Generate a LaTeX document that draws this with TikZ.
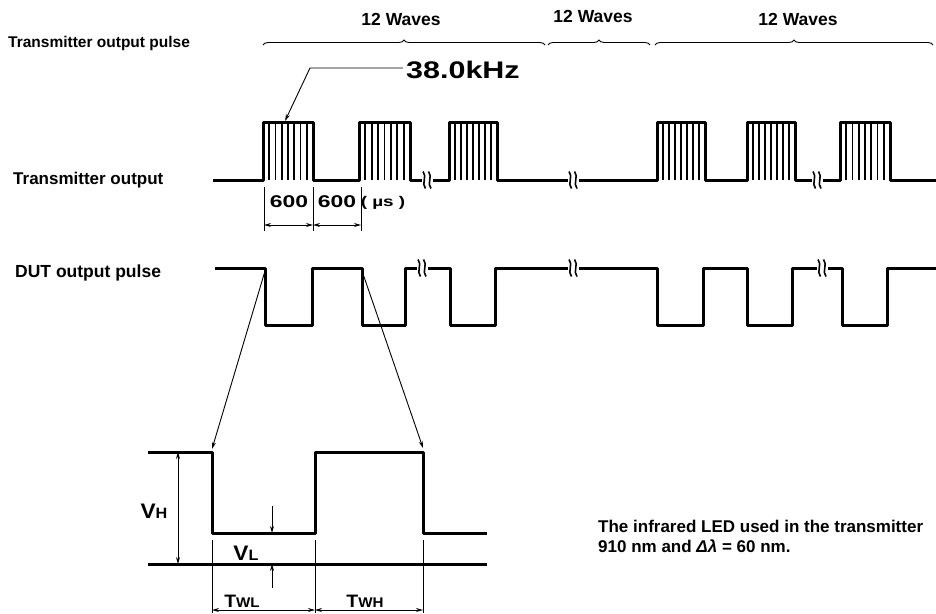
\documentclass[tikz,border=0pt]{standalone}
\usepackage{fontspec}
\setmainfont{Liberation Sans}
\newfontfamily\fA[FakeStretch=1.08]{Liberation Sans}
\newfontfamily\fB[FakeStretch=1.35]{Liberation Sans}
\newfontfamily\fC[FakeStretch=1.27]{Liberation Sans}
\usetikzlibrary{decorations.pathreplacing,arrows.meta}
\begin{document}
\begin{tikzpicture}[x=1pt,y=-1pt,
  wave/.style={line width=3pt,line join=round},
  hatch/.style={line width=1.8pt},
  thinln/.style={line width=0.9pt},
  tip/.style={-{Stealth[length=7pt,width=4pt]}},
  tips/.style={{Stealth[length=7pt,width=4pt]}-{Stealth[length=7pt,width=4pt]}},
  lbl/.style={anchor=base west,inner sep=0pt},
  wv/.style={font={\bfseries\fontsize{17.5}{19}\selectfont},anchor=base,inner sep=0pt},
  dimtxt/.style={font={\fB\bfseries\fontsize{17}{18}\selectfont},anchor=base,inner sep=0pt},
  brkmark/.pic={
    \fill[white] (-5.5,-8) rectangle (5.5,8);
    \draw[line width=1.6pt] (-4,-8.5) .. controls (0.5,-3.5) and (-6,3.5) .. (-1.5,8.5);
    \draw[line width=1.6pt] (1.5,-8.5) .. controls (6,-3.5) and (-0.5,3.5) .. (4,8.5);
  }]
\useasboundingbox (0,0) rectangle (936,613);

% left labels
\node[lbl,font={\bfseries\fontsize{15.5}{17}\selectfont}] (lpulse) at (8,47) {Transmitter output pulse};
\node[lbl,font={\bfseries\fontsize{17}{18}\selectfont}] (lout) at (13,184) {Transmitter output};
\node[lbl,font={\bfseries\fontsize{17.5}{18}\selectfont}] (ldut) at (15,277) {DUT output pulse};

% braces
\draw[thinln,decorate,decoration={brace,amplitude=5pt}] (263,45) -- (545,45);
\draw[thinln,decorate,decoration={brace,amplitude=5pt}] (548,45) -- (650,45);
\draw[thinln,decorate,decoration={brace,amplitude=5pt}] (655,45) -- (933,45);
\node[wv] (w1) at (401,25) {12 Waves};
\node[wv] (w2) at (593,22) {12 Waves};
\node[wv] (w3) at (798,25) {12 Waves};

% transmitter output
\draw[wave] (213,180) -- (263,180) -- (263,122) -- (313,122) -- (313,180)
  -- (359,180) -- (359,122) -- (410,122) -- (410,180)
  -- (449,180) -- (449,122) -- (497,122) -- (497,180)
  -- (657,180) -- (657,122) -- (705,122) -- (705,180)
  -- (747,180) -- (747,122) -- (795,122) -- (795,180)
  -- (840,180) -- (840,122) -- (890,122) -- (890,180) -- (936,180);
\foreach \a/\b in {263/313,359/410,449/497,657/705,747/795,840/890}{
  \foreach \k in {1,...,7}{
    \draw[hatch] ({\a+\k*(\b-\a)/8},122) -- ({\a+\k*(\b-\a)/8},180);
  }
}
\pic at (427,180) {brkmark};
\pic at (573,180) {brkmark};
\pic at (817,180) {brkmark};

% 38.0kHz leader
\node[font={\fC\bfseries\fontsize{24}{26}\selectfont},anchor=base west,inner sep=0pt] (khz) at (406,78) {38.0kHz};
\coordinate (kL) at (403,68);
\coordinate (kB) at (310,68);
\coordinate (kT) at (285,121);
\draw[thinln,tip] (kL) -- (kB) -- (kT);

% 600 dimensions
\draw[thinln] (264,187) -- (264,231);
\draw[thinln] (313,187) -- (313,231);
\draw[thinln] (361,187) -- (361,231);
\draw[thinln,tips] (264,225) -- (313,225);
\draw[thinln,tips] (313,225) -- (361,225);
\node[dimtxt] (d1) at (289,207) {600};
\node[dimtxt] (d2) at (337,207) {600};
\node[font={\fB\bfseries\fontsize{14}{16}\selectfont},anchor=base,inner sep=0pt] (us) at (383,206) {( µs )};

% DUT output
\draw[wave] (215,268) -- (265,268) -- (265,325) -- (312,325) -- (312,268)
  -- (362,268) -- (362,325) -- (405,325) -- (405,268)
  -- (450,268) -- (450,325) -- (495,325) -- (495,268)
  -- (657,268) -- (657,325) -- (703,325) -- (703,268)
  -- (747,268) -- (747,325) -- (792,325) -- (792,268)
  -- (842,268) -- (842,325) -- (887,325) -- (887,268) -- (936,268);
\pic at (422,268) {brkmark};
\pic at (573,268) {brkmark};
\pic at (822,268) {brkmark};

% detail
\coordinate (s1) at (265,271);
\coordinate (s2) at (362,271);
\coordinate (e1) at (212,449);
\coordinate (e2) at (423,448);
\draw[thinln,tip] (s1) -- (e1);
\draw[thinln,tip] (s2) -- (e2);
\draw[wave] (148,452) -- (212,452) -- (212,533) -- (315,533) -- (315,452)
  -- (423,452) -- (423,533) -- (487,533);
\draw[wave] (148,564) -- (487,564);
\draw[thinln,tips] (178,452) -- (178,564);
\draw[thinln,tip] (272,506) -- (272,533);
\draw[thinln,tip] (272,588) -- (272,564);
\draw[thinln] (212,540) -- (212,613);
\draw[thinln] (315,540) -- (315,613);
\draw[thinln] (423,540) -- (423,613);
\draw[thinln,tips] (212,610) -- (315,610);
\draw[thinln,tips] (315,610) -- (423,610);
\node[font=\fA\bfseries,anchor=base,inner sep=0pt] (vh) at (154,518) {\fontsize{21}{22}\selectfont V\fontsize{15}{16}\selectfont H};
\node[font=\fA\bfseries,anchor=base,inner sep=0pt] (vl) at (246,560) {\fontsize{21}{22}\selectfont V\fontsize{15}{16}\selectfont L};
\node[font=\fA\bfseries,anchor=base,inner sep=0pt] (twl) at (242,607) {\fontsize{18}{20}\selectfont T\fontsize{14}{16}\selectfont WL};
\node[font=\fA\bfseries,anchor=base,inner sep=0pt] (twh) at (365,607) {\fontsize{18}{20}\selectfont T\fontsize{14}{16}\selectfont WH};

% note
\node[lbl,font={\bfseries\fontsize{17}{18}\selectfont}] (n1) at (598,532) {The infrared LED used in the transmitter};
\node[lbl,font={\bfseries\fontsize{17}{18}\selectfont}] (n2) at (598,552) {910 nm and {\itshape Δλ} = 60 nm.};
\end{tikzpicture}
\end{document}
